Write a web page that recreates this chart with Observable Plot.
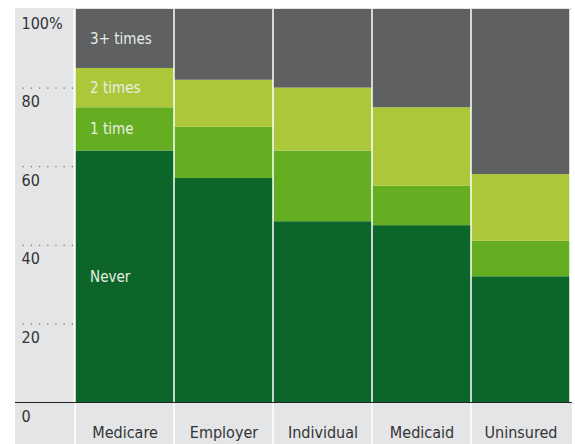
<!DOCTYPE html>
<html><head><meta charset="utf-8">
<script src="https://cdn.jsdelivr.net/npm/d3@7"></script>
<script src="https://cdn.jsdelivr.net/npm/@observablehq/plot@0.6"></script>
<style>
html,body{margin:0;padding:0;background:#fff;}
#chart{position:absolute;left:15px;top:8px;}
#chart svg{background:#e4e5e7;display:block;font-family:"DejaVu Sans",sans-serif;font-stretch:condensed;}
</style></head><body><div id="chart"></div>
<script>
const categories = ["Medicare","Employer","Individual","Medicaid","Uninsured"];
const seriesNames = ["Never","1 time","2 times","3+ times"];
const never = [64,57,46,45,32];
const once = [11,13,18,10,9];
const twice = [10,12,16,20,17];
const threePlus = [15,18,20,25,42];
const yTicks = [0,20,40,60,80,100];
const colors = ["#0c6629","#65ae22","#acc83a","#5f6062"];

const seriesValues = [never, once, twice, threePlus];
const rows = [];
categories.forEach((c,i)=> seriesNames.forEach((s,j)=> rows.push({category:c, series:s, value:seriesValues[j][i]})));

const width=557, height=436, mL=58, mR=0, mT=1, mB=42;
const band=(width-mL-mR)/categories.length;

const plot = Plot.plot({
  width, height, marginLeft:mL, marginRight:mR, marginTop:mT, marginBottom:mB,
  style:{background:"#e4e5e7"},
  x:{domain:categories, padding:0, axis:null, label:null},
  y:{domain:[0,100], axis:null, label:null},
  color:{domain:seriesNames, range:colors},
  marks:[
    Plot.frame({fill:"white", stroke:null}),
    Plot.barY(rows, Plot.stackY({x:"category", y:"value", fill:"series", order:null, insetLeft:0.75, insetRight:0.75})),
    Plot.axisX({ticks:categories, tickSize:mB, tickFormat:()=>"", label:null, stroke:"white", strokeWidth:1.5, dx:-band/2}),
    Plot.axisX({tickSize:0, tickPadding:24, fontSize:16, label:null, color:"#333"}),
    Plot.axisY({ticks:yTicks.filter(d=>d>0&&d<100), tickSize:mL-1, tickFormat:()=>"", label:null, stroke:"#555", strokeDasharray:"1.2,7"}),
    Plot.axisY({ticks:[0], tickSize:mL, tickFormat:()=>"", label:null, stroke:"#222"}),
    Plot.ruleY([0], {stroke:"#222", strokeWidth:1}),
    Plot.axisY({ticks:yTicks, tickSize:0, tickPadding:0, tickFormat:d=>d===100?"100%":String(d), label:null, textAnchor:"start", dx:-(mL-6), dy:14, fontSize:16, color:"#333"}),
    Plot.text(rows.filter(d=>d.category===categories[0]), Plot.stackY({x:"category", y:"value", z:"series", text:"series", textAnchor:"start", dx:-band/2+15, fill:"#e8eee2", fontSize:15}))
  ]
});
document.getElementById("chart").appendChild(plot);
</script></body></html>
